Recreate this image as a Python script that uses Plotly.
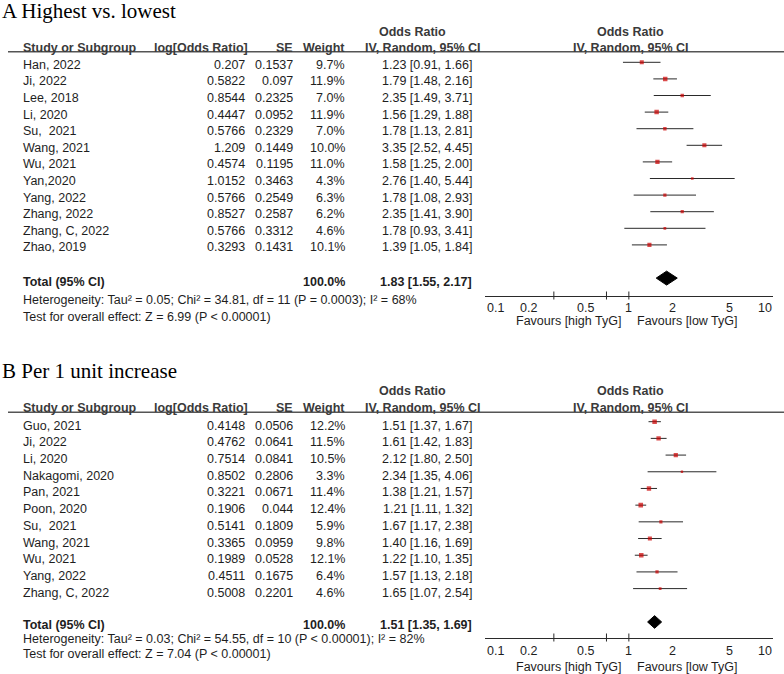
import math
import plotly.graph_objects as go

W, H = 784, 674

# ---------------- data ----------------
a_studies = ["Han, 2022", "Ji, 2022", "Lee, 2018", "Li, 2020", "Su, \u00a02021", "Wang, 2021",
             "Wu, 2021", "Yan,2020", "Yang, 2022", "Zhang, 2022", "Zhang, C, 2022", "Zhao, 2019"]
a_log = [0.207, 0.5822, 0.8544, 0.4447, 0.5766, 1.209, 0.4574, 1.0152, 0.5766, 0.8527, 0.5766, 0.3293]
a_se = [0.1537, 0.097, 0.2325, 0.0952, 0.2329, 0.1449, 0.1195, 0.3463, 0.2549, 0.2587, 0.3312, 0.1431]
a_weight = [9.7, 11.9, 7.0, 11.9, 7.0, 10.0, 11.0, 4.3, 6.3, 6.2, 4.6, 10.1]
a_or = [1.23, 1.79, 2.35, 1.56, 1.78, 3.35, 1.58, 2.76, 1.78, 2.35, 1.78, 1.39]
a_lo = [0.91, 1.48, 1.49, 1.29, 1.13, 2.52, 1.25, 1.40, 1.08, 1.41, 0.93, 1.05]
a_hi = [1.66, 2.16, 3.71, 1.88, 2.81, 4.45, 2.00, 5.44, 2.93, 3.90, 3.41, 1.84]
a_total = [1.83, 1.55, 2.17]
a_total_weight = 100.0
a_het = "Heterogeneity: Tau\u00b2 = 0.05; Chi\u00b2 = 34.81, df = 11 (P = 0.0003); I\u00b2 = 68%"
a_test = "Test for overall effect: Z = 6.99 (P < 0.00001)"

b_studies = ["Guo, 2021", "Ji, 2022", "Li, 2020", "Nakagomi, 2020", "Pan, 2021", "Poon, 2020",
             "Su, \u00a02021", "Wang, 2021", "Wu, 2021", "Yang, 2022", "Zhang, C, 2022"]
b_log = [0.4148, 0.4762, 0.7514, 0.8502, 0.3221, 0.1906, 0.5141, 0.3365, 0.1989, 0.4511, 0.5008]
b_se = [0.0506, 0.0641, 0.0841, 0.2806, 0.0671, 0.044, 0.1809, 0.0959, 0.0528, 0.1675, 0.2201]
b_weight = [12.2, 11.5, 10.5, 3.3, 11.4, 12.4, 5.9, 9.8, 12.1, 6.4, 4.6]
b_or = [1.51, 1.61, 2.12, 2.34, 1.38, 1.21, 1.67, 1.40, 1.22, 1.57, 1.65]
b_lo = [1.37, 1.42, 1.80, 1.35, 1.21, 1.11, 1.17, 1.16, 1.10, 1.13, 1.07]
b_hi = [1.67, 1.83, 2.50, 4.06, 1.57, 1.32, 2.38, 1.69, 1.35, 2.18, 2.54]
b_total = [1.51, 1.35, 1.69]
b_total_weight = 100.0
b_het = "Heterogeneity: Tau\u00b2 = 0.03; Chi\u00b2 = 54.55, df = 10 (P < 0.00001); I\u00b2 = 82%"
b_test = "Test for overall effect: Z = 7.04 (P < 0.00001)"

tick_vals = [0.1, 0.2, 0.5, 1, 2, 5, 10]
tick_text = ["0.1", "0.2", "0.5", "1", "2", "5", "10"]
fav_left = "Favours [high TyG]"
fav_right = "Favours [low TyG]"

# ---------------- layout helpers ----------------
FONT = "Liberation Sans, Arial, sans-serif"
SERIF = "Liberation Serif, Times New Roman, serif"
FS = 12.5
TXT = "#1e1e1e"
HDR = "#3a3a3a"
LINE = "#2a2a2a"

def px(x):
    return x / W

def py(y):
    return 1 - y / H

panels = [
    dict(title="A Highest vs. lowest", title_y=10.5, hdr1_y=31.7, hdr2_y=48.3, line_y=51.7,
         row0=62.3, sp=16.6, bottom=295.5, text_shift=-2.6, total_shift=-3.5,
         het_y=300, test_y=316.7, lab_shift=-12.8, fav_shift=-25.5, dia_h=0.42,
         studies=a_studies, log=a_log, se=a_se, w=a_weight, orv=a_or, lo=a_lo, hi=a_hi,
         total=a_total, tw=a_total_weight, het=a_het, test=a_test),
    dict(title="B Per 1 unit increase", title_y=371, hdr1_y=391, hdr2_y=407.7, line_y=412.3,
         row0=421.7, sp=16.69, bottom=637.5, text_shift=-4.0, total_shift=-3.0,
         het_y=639.3, test_y=653.5, lab_shift=-13.5, fav_shift=-29.5, dia_h=0.38,
         studies=b_studies, log=b_log, se=b_se, w=b_weight, orv=b_or, lo=b_lo, hi=b_hi,
         total=b_total, tw=b_total_weight, het=b_het, test=b_test),
]

X_LEFT, X_RIGHT = 485, 772.7
COL_NAME = 20.7
COL_LOG = 247
COL_SE = 294.5
COL_W = 347
COL_CI = 474
PLOT_CX = 630
tick_xshift = [10, 0, 0, 0, 0, 0, -8]

fig = go.Figure()
annotations = []
shapes = []

def ann(text, x, y, xanchor="left", yref="paper", bold=False, size=FS, color=TXT, family=FONT,
        yshift=0, xref="paper", xshift=0):
    if bold:
        text = "<b>" + text + "</b>"
    annotations.append(dict(text=text, x=x, y=y, xref=xref, yref=yref, xanchor=xanchor,
                            yanchor="middle", showarrow=False, yshift=yshift, xshift=xshift,
                            font=dict(family=family, size=size, color=color)))

for k, p in enumerate(panels):
    sfx = "" if k == 0 else str(k + 1)
    xa, ya = "x" + sfx, "y" + sfx
    n = len(p["studies"])
    top_i = (p["line_y"] - p["row0"]) / p["sp"]
    bot_i = (p["bottom"] - p["row0"]) / p["sp"]

    fig.update_layout(**{
        "xaxis" + sfx: dict(type="log", range=[-1, 1], domain=[px(X_LEFT), px(X_RIGHT)],
                            anchor=ya, showgrid=False, zeroline=False, showticklabels=False,
                            ticks="", showline=True, linecolor=LINE, linewidth=1, fixedrange=True),
        "yaxis" + sfx: dict(range=[bot_i, top_i], domain=[py(p["bottom"]), py(p["line_y"])],
                            anchor=xa, visible=False, fixedrange=True),
    })

    rows = list(range(n))
    total_row = n + 1

    # CI lines + squares
    fig.add_trace(go.Scatter(
        x=p["orv"], y=rows, xaxis=xa, yaxis=ya, mode="markers",
        marker=dict(symbol="square", color="#cc0000",
                    size=[1.3 * math.sqrt(w) for w in p["w"]], line=dict(width=0)),
        error_x=dict(type="data", symmetric=False,
                     array=[h - o for h, o in zip(p["hi"], p["orv"])],
                     arrayminus=[o - l for o, l in zip(p["orv"], p["lo"])],
                     width=0, thickness=1, color=LINE),
        showlegend=False, hoverinfo="skip"))

    # total diamond
    t_or, t_lo, t_hi = p["total"]
    h = p["dia_h"]
    fig.add_trace(go.Scatter(
        x=[t_lo, t_or, t_hi, t_or, t_lo], y=[total_row, total_row - h, total_row, total_row + h, total_row],
        xaxis=xa, yaxis=ya, mode="lines", fill="toself", fillcolor="black",
        line=dict(color="black", width=1), showlegend=False, hoverinfo="skip"))

    # vertical line at OR = 1
    shapes.append(dict(type="line", xref=xa, yref=ya + " domain", x0=0, x1=0, y0=0, y1=1,
                       line=dict(color="#444", width=1)))
    # header underline
    shapes.append(dict(type="line", xref="paper", yref="paper", x0=px(8), x1=1,
                       y0=py(p["line_y"]), y1=py(p["line_y"]), line=dict(color="#555", width=1.5)))
    # tick marks (crossing the axis) and labels
    for t, lab, xs in zip(tick_vals, tick_text, tick_xshift):
        shapes.append(dict(type="line", xref=xa, yref=ya + " domain", x0=math.log10(t), x1=math.log10(t),
                           ysizemode="pixel", yanchor=0, y0=-4, y1=4, line=dict(color=LINE, width=1)))
        ann(lab, math.log10(t), 0, xanchor="center", xref=xa, yref=ya + " domain",
            yshift=p["lab_shift"], xshift=xs)
    ann(fav_left, 0, 0, xanchor="right", xref=xa, yref=ya + " domain", yshift=p["fav_shift"], xshift=-6)
    ann(fav_right, 0, 0, xanchor="left", xref=xa, yref=ya + " domain", yshift=p["fav_shift"], xshift=6)

    # title
    ann(p["title"], px(0), py(p["title_y"]), family=SERIF, size=21, color="black")
    # headers
    ann("Odds Ratio", px(412), py(p["hdr1_y"]), xanchor="center", bold=True, color=HDR)
    ann("Odds Ratio", px(PLOT_CX), py(p["hdr1_y"]), xanchor="center", bold=True, color=HDR)
    ann("Study or Subgroup", px(COL_NAME), py(p["hdr2_y"]), bold=True, color=HDR)
    ann("log[Odds Ratio]", px(250), py(p["hdr2_y"]), xanchor="right", bold=True, color=HDR)
    ann("SE", px(295), py(p["hdr2_y"]), xanchor="right", bold=True, color=HDR)
    ann("Weight", px(COL_W), py(p["hdr2_y"]), xanchor="right", bold=True, color=HDR)
    ann("IV, Random, 95% CI", px(363), py(p["hdr2_y"]), xanchor="left", bold=True, color=HDR)
    ann("IV, Random, 95% CI", px(PLOT_CX + 1), py(p["hdr2_y"]), xanchor="center", bold=True, color=HDR)

    # table rows
    for i in rows:
        ys = p["text_shift"]
        ann(p["studies"][i], px(COL_NAME), i, yref=ya, yshift=ys)
        ann(str(p["log"][i]), px(COL_LOG), i, xanchor="right", yref=ya, yshift=ys)
        ann(str(p["se"][i]), px(COL_SE), i, xanchor="right", yref=ya, yshift=ys)
        ann(f"{p['w'][i]:.1f}%", px(COL_W), i, xanchor="right", yref=ya, yshift=ys)
        ann(f"{p['orv'][i]:.2f} [{p['lo'][i]:.2f}, {p['hi'][i]:.2f}]", px(COL_CI), i,
            xanchor="right", yref=ya, yshift=ys)

    # total row
    ann("Total (95% CI)", px(COL_NAME), total_row, yref=ya, yshift=p["total_shift"], bold=True)
    ann(f"{p['tw']:.1f}%", px(COL_W), total_row, xanchor="right", yref=ya,
        yshift=p["total_shift"], bold=True)
    ann(f"{t_or:.2f} [{t_lo:.2f}, {t_hi:.2f}]", px(COL_CI), total_row, xanchor="right", yref=ya,
        yshift=p["total_shift"], bold=True)

    # footers
    ann(p["het"], px(COL_NAME), py(p["het_y"]))
    ann(p["test"], px(COL_NAME), py(p["test_y"]))

fig.update_layout(width=W, height=H, margin=dict(l=0, r=0, t=0, b=0),
                  paper_bgcolor="white", plot_bgcolor="white",
                  annotations=annotations, shapes=shapes, showlegend=False)

fig.write_html("out.html", config={"displayModeBar": False},
               post_script="document.body.style.margin='0';document.body.style.overflow='hidden';")
